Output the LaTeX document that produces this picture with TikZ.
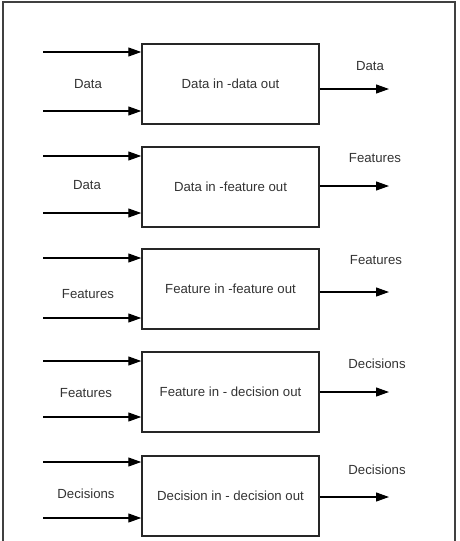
\documentclass[tikz,border=0pt]{standalone}
\usepackage{fontspec}
\setmainfont{Liberation Sans}
\usetikzlibrary{positioning,calc,arrows.meta}

\tikzset{
  stage/.style={draw=black!85, line width=1.5pt, minimum width=177pt, minimum height=80pt, inner sep=0pt, text=black!80},
  flow/.style={line width=1.2pt, -{Triangle[length=13pt,width=9pt]}},
  lbl/.style={text=black!80}
}

\begin{document}
\begin{tikzpicture}[x=1pt,y=-1pt, font=\fontsize{13.2}{16}\selectfont]
		\useasboundingbox (0,0) rectangle (459,541);
		\draw[black!75, line width=1.4pt] (3,545) -- (3,2) -- (455,2) -- (455,545);
		
		% boxes
		\node[stage] (s1) at (230.5,84) {Data in -data out};
		\node[stage] (s2) at (230.5,187) {Data in -feature out};
		\node[stage] (s3) at (230.5,289) {Feature in -feature out};
		\node[stage] (s4) at (230.5,392) {Feature in - decision out};
		\node[stage] (s5) at (230.5,496) {Decision in - decision out};
		
		% inputs
		\coordinate (a1) at (43,52);  \coordinate (b1) at (43,111);
		\coordinate (a2) at (43,156); \coordinate (b2) at (43,213);
		\coordinate (a3) at (43,258); \coordinate (b3) at (43,318);
		\coordinate (a4) at (43,361); \coordinate (b4) at (43,417);
		\coordinate (a5) at (43,462); \coordinate (b5) at (43,518);
		\draw[flow] (a1) -- (s1.west |- a1);
		\draw[flow] (b1) -- (s1.west |- b1);
		\draw[flow] (a2) -- (s2.west |- a2);
		\draw[flow] (b2) -- (s2.west |- b2);
		\draw[flow] (a3) -- (s3.west |- a3);
		\draw[flow] (b3) -- (s3.west |- b3);
		\draw[flow] (a4) -- (s4.west |- a4);
		\draw[flow] (b4) -- (s4.west |- b4);
		\draw[flow] (a5) -- (s5.west |- a5);
		\draw[flow] (b5) -- (s5.west |- b5);
		
		\node[lbl] (i1) at (88,84) {Data};
		\node[lbl] (i2) at (87,185) {Data};
		\node[lbl] (i3) at (88,294) {Features};
		\node[lbl] (i4) at (86,393) {Features};
		\node[lbl] (i5) at (86,494) {Decisions};
		
		% outputs
		\coordinate (o1) at (389,89);
		\coordinate (o2) at (389,186);
		\coordinate (o3) at (389,292);
		\coordinate (o4) at (389,392);
		\coordinate (o5) at (389,497);
		\draw[flow] (s1.east |- o1) -- (o1);
		\draw[flow] (s2.east |- o2) -- (o2);
		\draw[flow] (s3.east |- o3) -- (o3);
		\draw[flow] (s4.east |- o4) -- (o4);
		\draw[flow] (s5.east |- o5) -- (o5);
		
		\node[lbl] (r1) at (370,66) {Data};
		\node[lbl] (r2) at (375,158) {Features};
		\node[lbl] (r3) at (376,260) {Features};
		\node[lbl] (r4) at (377,364) {Decisions};
		\node[lbl] (r5) at (377,470) {Decisions};
		
	\end{tikzpicture}
\end{document}
